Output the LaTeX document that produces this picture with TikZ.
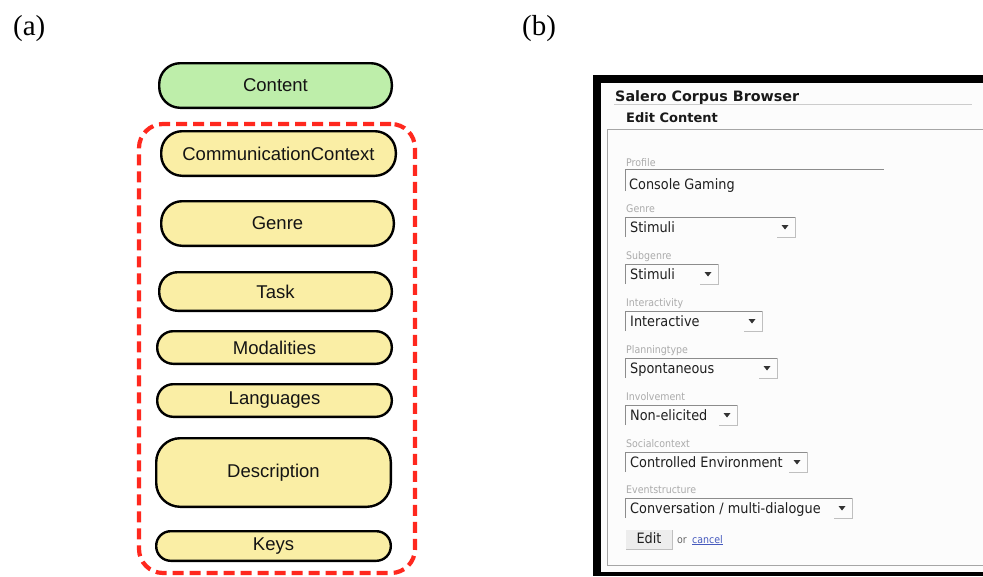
\documentclass[tikz,border=0pt]{standalone}
\usepackage{fontspec}
\setmainfont{Liberation Serif}
\newfontfamily\diagfont{Liberation Sans}
\newfontfamily\uifont{DejaVu Sans}
\newfontfamily\uinarrow{DejaVu Sans}[FakeStretch=0.9]

\definecolor{entgreen}{RGB}{190,238,170}
\definecolor{entyellow}{RGB}{250,238,165}
\definecolor{groupred}{RGB}{255,40,30}
\definecolor{linkblue}{RGB}{70,90,190}

% one labelled drop-down field of the edit form
% #1 name, #2 field label, #3 chosen value, #4 label baseline, #5 right edge
\newcommand\uidrop[5]{%
  \node[uilabel] (#1-label) at (626,#4) {#2};
  \draw[uiedge] (625,{#4+25}) -- (625,{#4+5}) -- (#5,{#4+5});
  \draw[uishade] (#5,{#4+5}) -- (#5,{#4+25}) -- ({#5-18},{#4+25});
  \fill[black!80] ({#5-13.5},{#4+13}) -- ({#5-6.5},{#4+13}) -- ({#5-10},{#4+17.5}) -- cycle;
  \node[uivalue] (#1) at (630,{#4+20}) {#3};
}

\begin{document}
\begin{tikzpicture}[x=1pt,y=-1pt,
  entity/.style={draw=black, line width=2.4pt, fill=entyellow, rounded corners=15pt,
    inner sep=0pt, text=black!92, font=\diagfont\fontsize{18.5}{21}\selectfont},
  group/.style={draw=groupred, line width=4.2pt, dash pattern=on 11pt off 6pt,
    rounded corners=24pt, inner sep=0pt},
  caption/.style={anchor=base west, inner sep=0pt, font=\fontsize{29}{34}\selectfont},
  uilabel/.style={anchor=base west, inner sep=0pt, text=black!33,
    font=\uinarrow\fontsize{10.5}{12}\selectfont},
  uivalue/.style={anchor=base west, inner sep=0pt, text=black!88,
    font=\uinarrow\fontsize{14.3}{16}\selectfont},
  uiedge/.style={draw=black!45, line width=1pt},
  uishade/.style={draw=black!25, line width=1pt},
]
\useasboundingbox (0,0) rectangle (983,576);
\fill[white] (0,0) rectangle (983,576);

% ---------- (a) data model ----------
\node[caption] (capa) at (13,35) {(a)};

\node[group, minimum width=276pt, minimum height=449pt] (attrs) at (277,348.5) {};

\node[entity, fill=entgreen, rounded corners=21pt, minimum width=232.6pt, minimum height=44.6pt] (content) at (275.5,85.5) {Content};
\node[entity, rounded corners=21pt, minimum width=234.6pt, minimum height=44.6pt] (comm) at (278.5,153.5) {CommunicationContext};
\node[entity, rounded corners=21pt, minimum width=232.6pt, minimum height=44.6pt] (genre) at (277.5,223.5) {Genre};
\node[entity, rounded corners=18.5pt, minimum width=232.6pt, minimum height=38.6pt] (task) at (275.5,291.5) {Task};
\node[entity, rounded corners=16pt, minimum width=234.6pt, minimum height=32.6pt] (modal) at (274.5,347.5) {Modalities};
\node[entity, rounded corners=16pt, minimum width=234.6pt, minimum height=32.6pt] (lang) at (274.5,400.5) {Languages};
\node[entity, rounded corners=24pt, minimum width=234.6pt, minimum height=68.6pt] (descr) at (273.5,472.5) {Description};
\node[entity, rounded corners=14.5pt, minimum width=234.6pt, minimum height=29.6pt] (keys) at (273.5,546) {Keys};

% ---------- (b) browser form ----------
\node[caption] (capb) at (522,35) {(b)};

\fill[black] (593,75) rectangle (983,576);
\fill[black!1] (601,83) rectangle (983,572);

\node[anchor=base west, inner sep=0pt, text=black!90, font=\uifont\bfseries\fontsize{14.3}{16}\selectfont] (title) at (615,101) {Salero Corpus Browser};
\draw[black!20, line width=1pt] (614,104) -- (972,104);
\node[anchor=base west, inner sep=0pt, text=black!90, font=\uifont\bfseries\fontsize{13}{15}\selectfont] (heading) at (626,122) {Edit Content};
\draw[black!35, line width=1pt] (983,129) -- (607,129) -- (607,565) -- (983,565);

% profile text field
\node[uilabel] (profile-label) at (626,166) {Profile};
\draw[uiedge] (625,191) -- (625,169.5) -- (884,169.5);
\node[uivalue] (profile) at (629,189) {Console Gaming};

\uidrop{genre-f}{Genre}{Stimuli}{212}{795}
\uidrop{subgenre-f}{Subgenre}{Stimuli}{259}{718}
\uidrop{interact-f}{Interactivity}{Interactive}{306}{762}
\uidrop{planning-f}{Planningtype}{Spontaneous}{353}{777}
\uidrop{involve-f}{Involvement}{Non-elicited}{400}{737}
\uidrop{social-f}{Socialcontext}{Controlled Environment}{447}{807}
\uidrop{event-f}{Eventstructure}{Conversation / multi-dialogue}{493}{852}

% submit row
\fill[black!7] (626,530) rectangle (672,549);
\draw[uishade] (672,530) -- (672,549) -- (626,549);
\node[uivalue, anchor=base] (edit) at (649,543) {Edit};
\node[anchor=base west, inner sep=0pt, text=black!60, font=\uinarrow\fontsize{10.5}{12}\selectfont] (or) at (677,543) {or};
\node[anchor=base west, inner sep=0pt, text=linkblue, font=\uinarrow\fontsize{10.5}{12}\selectfont] (cancel) at (692,543) {\underline{cancel}};
\end{tikzpicture}
\end{document}
